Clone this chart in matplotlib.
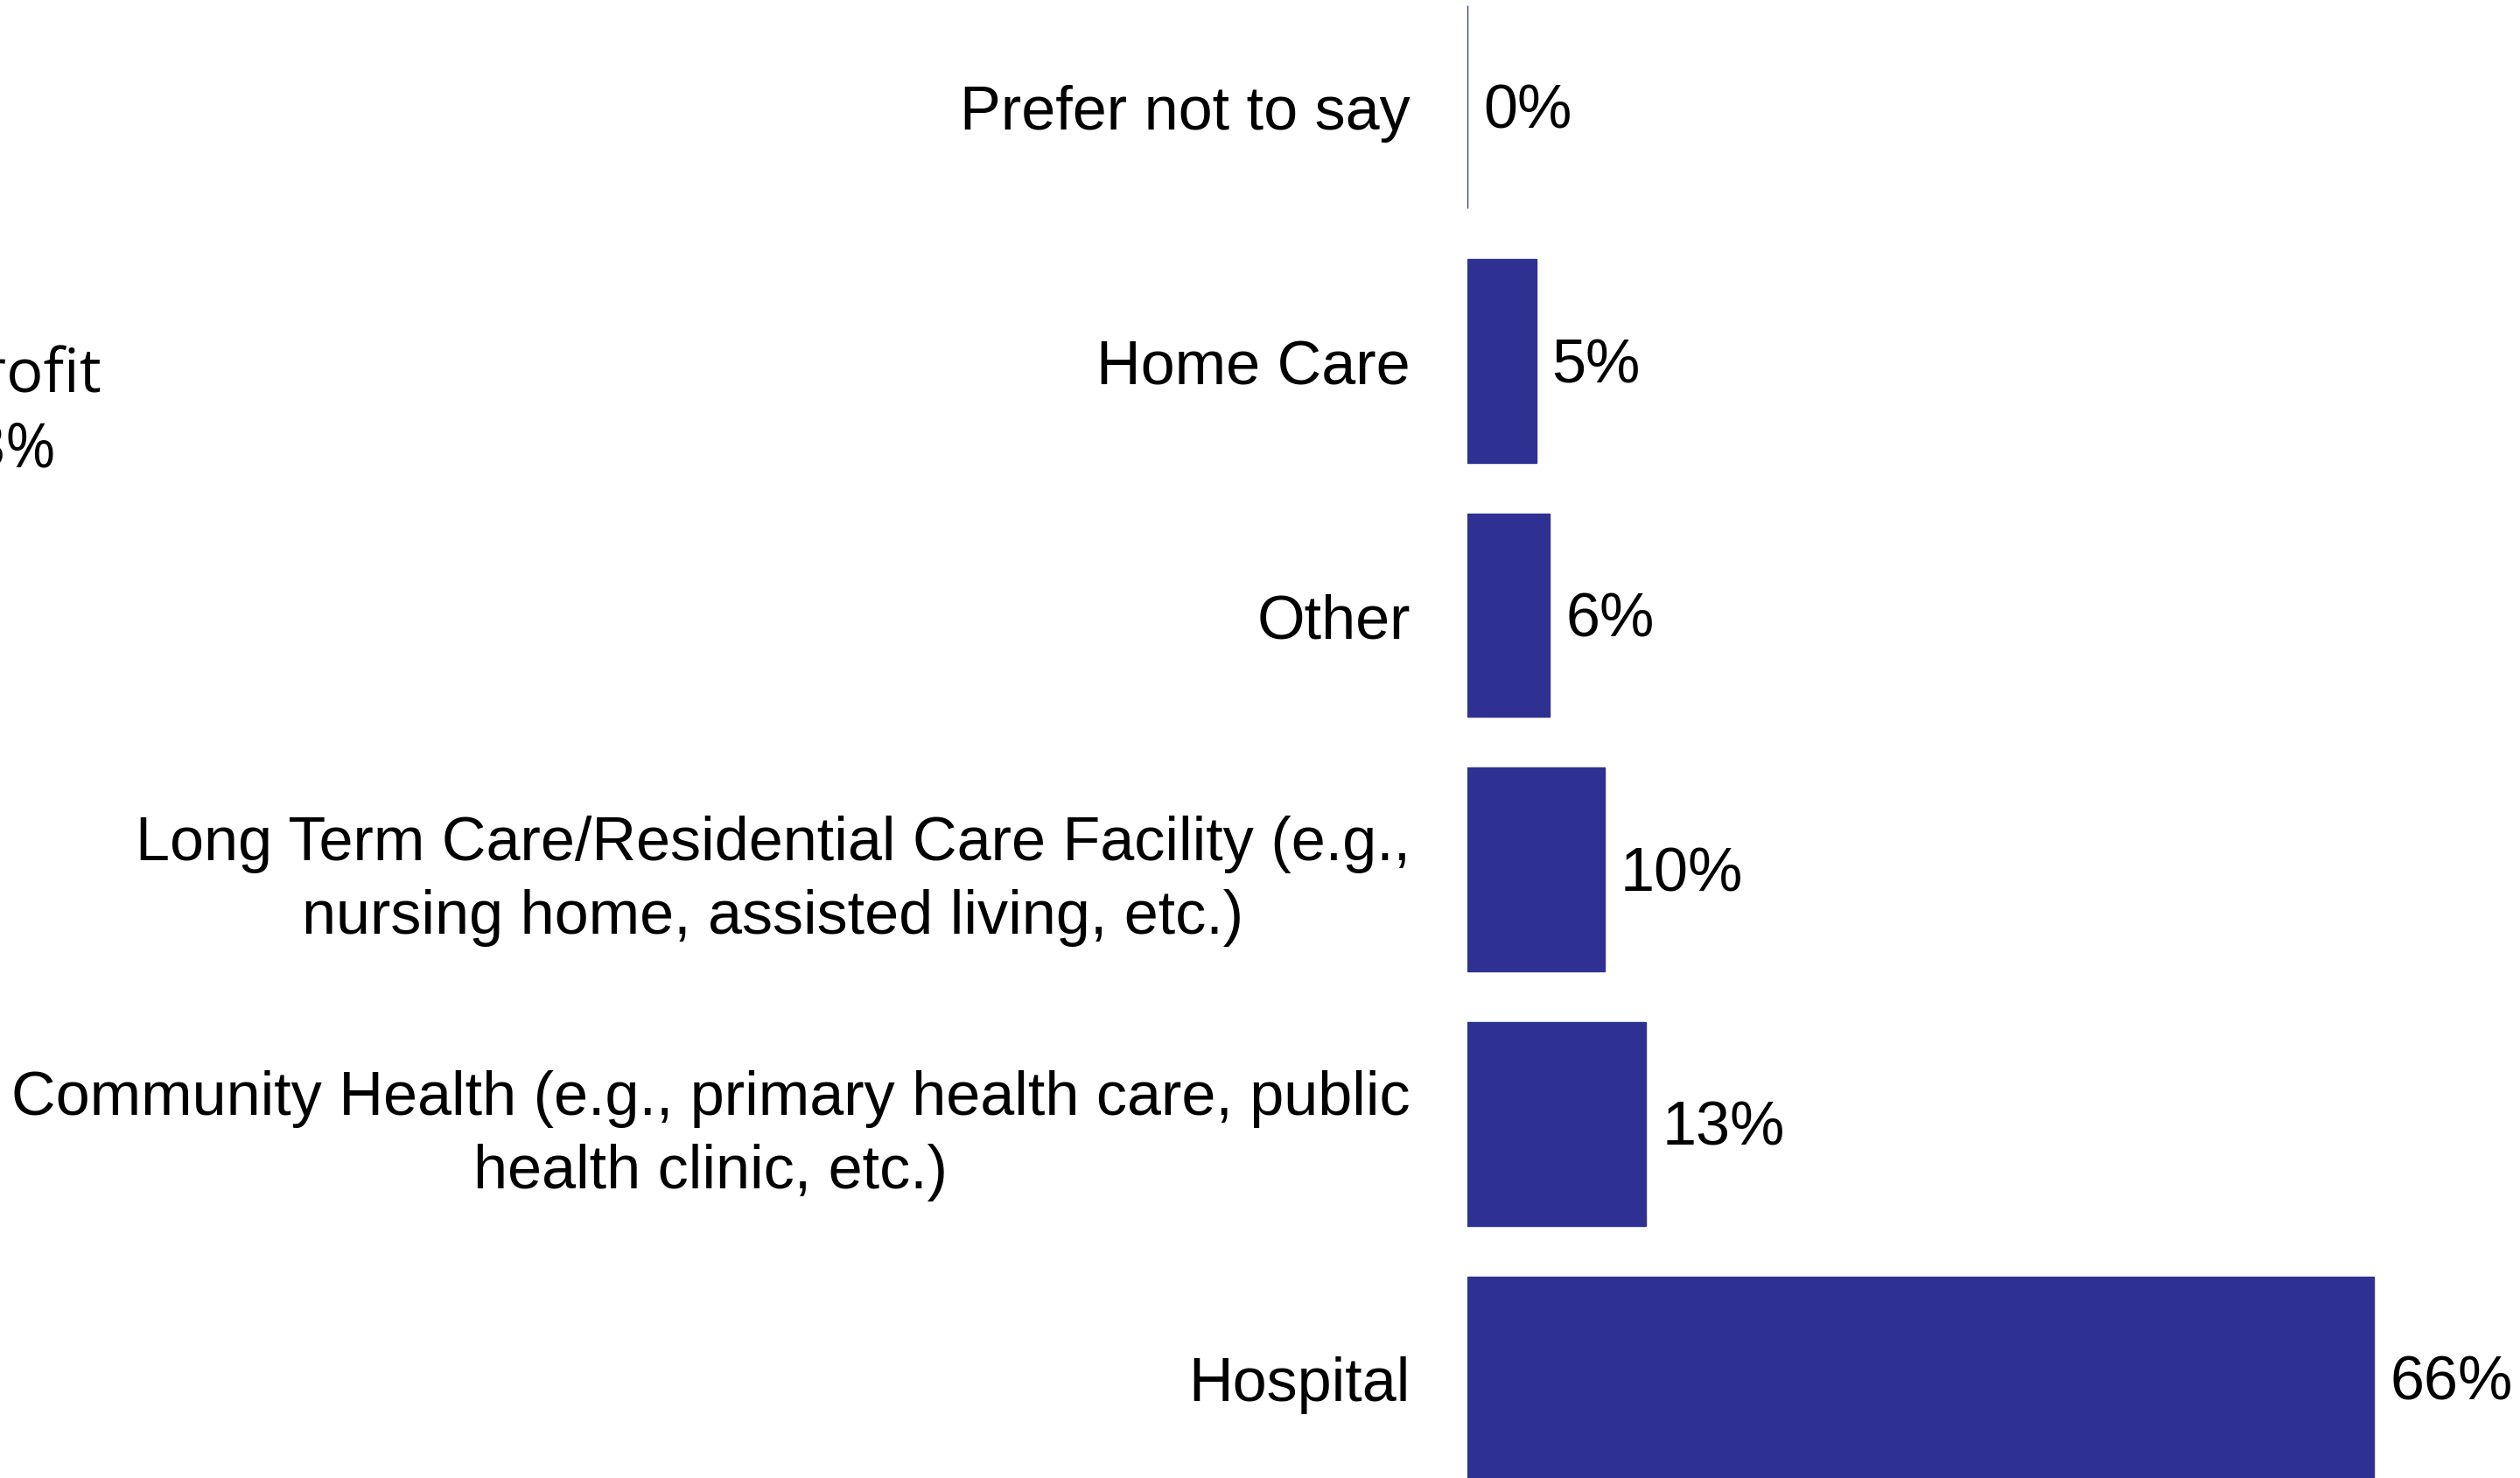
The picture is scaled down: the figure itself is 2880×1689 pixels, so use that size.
import matplotlib
matplotlib.use("Agg")
import matplotlib.pyplot as plt

# Workplace setting of respondents (share of responses)
categories = [
    "Hospital",
    "Community Health (e.g., primary health care, public\nhealth clinic, etc.)",
    "Long Term Care/Residential Care Facility (e.g.,\nnursing home, assisted living, etc.)",
    "Other",
    "Home Care",
    "Prefer not to say",
]
values = [66, 13, 10, 6, 5, 0]
value_labels = ["66%", "13%", "10%", "6%", "5%", "0%"]

# Fragment of the neighbouring panel's label at the left edge
side_label = "Not-for-profit"
side_value = "3%"

BAR_COLOR = "#2E3192"
FONT = "Liberation Sans"
FS = 50.5

W, H = 2880, 1690
fig = plt.figure(figsize=(W / 100, H / 100), dpi=100)
fig.patch.set_facecolor("white")

bar_left_px = 1677
ax = fig.add_axes([bar_left_px / W, 0, 1 - bar_left_px / W, 1])
ax.set_facecolor("none")

ypos = list(range(len(categories)))
ax.barh(ypos, values, height=0.80, color=BAR_COLOR, edgecolor=BAR_COLOR,
        linewidth=1.0)

px_per_pct = 15.70
ax.set_xlim(0, (W - bar_left_px) / px_per_pct)
ax.set_ylim(-0.3925, 5.423)

# value labels to the right of each bar
for y, v, lab in zip(ypos, values, value_labels):
    ax.annotate(lab, xy=(v, y), xytext=(13, -4), textcoords="offset points",
                ha="left", va="center", fontsize=FS, family=FONT,
                color="black")

# category labels to the left of the bar baseline
for y, cat in zip(ypos, categories):
    dy = 3 if "\n" in cat else 0
    ax.annotate(cat, xy=(0, y), xytext=(-47, dy), textcoords="offset points",
                ha="right", va="center_baseline", multialignment="center",
                linespacing=1.35, fontsize=FS, family=FONT, color="black",
                annotation_clip=False)

ax.set_yticks([])
ax.set_xticks([])
for s in ax.spines.values():
    s.set_visible(False)

fig.text(116 / W, 1 - 430 / H, side_label, ha="right", va="center",
         fontsize=FS, family="Open Sans", color="black")
fig.text(65 / W, 1 - 516 / H, side_value, ha="right", va="center",
         fontsize=FS, family="Open Sans", color="black")

fig.savefig("out.png", dpi=100, facecolor="white")
